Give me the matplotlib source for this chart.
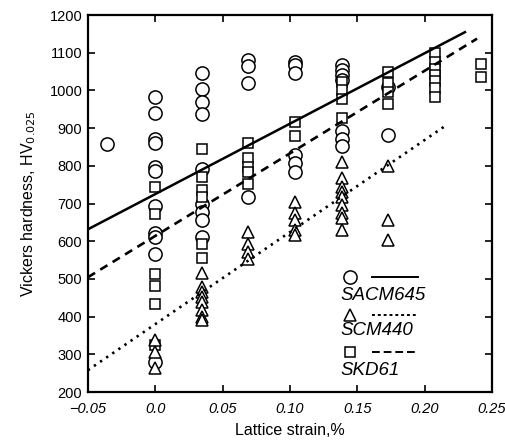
import numpy as np
import matplotlib
matplotlib.use("Agg")
import matplotlib.pyplot as plt

plt.rcParams['font.family'] = ['Liberation Sans', 'DejaVu Sans']

# SACM645 (circles)
sacm_x = [-0.036] + [0.0] * 11 + [0.035] * 9 + [0.069] * 4 + [0.104] * 6 + [0.139] * 7 + [0.173] * 2
sacm_y = [858,
          983, 941, 870, 860, 798, 787, 693, 621, 610, 566, 280,
          1047, 1003, 970, 937, 791, 699, 678, 656, 612,
          1081, 1065, 1019, 718,
          1076, 1067, 1047, 829, 807, 784,
          1067, 1054, 1041, 1029, 893, 870, 853,
          1008, 882]

# SCM440 (triangles)
scm_x = [0.0] * 3 + [0.035] * 8 + [0.069] * 4 + [0.104] * 5 + [0.139] * 9 + [0.173] * 3
scm_y = [338, 307, 263,
         515, 479, 466, 453, 440, 418, 400, 391,
         625, 594, 572, 554,
         705, 674, 656, 630, 616,
         811, 767, 745, 731, 718, 696, 674, 661, 630,
         800, 656, 603]

# SKD61 (squares)
skd_x = [0.0] * 6 + [0.035] * 6 + [0.069] * 5 + [0.104] * 2 + [0.139] * 4 + [0.173] * 4 + [0.208] * 7 + [0.242] * 2
skd_y = [743, 671, 513, 481, 433, 325,
         844, 771, 736, 718, 594, 555,
         861, 820, 798, 784, 753,
         917, 880,
         1022, 1001, 977, 927,
         1049, 1020, 995, 965,
         1100, 1076, 1058, 1041, 1026, 1006, 982,
         1070, 1036]

# fitted lines: x range, intercept, slope
sacm_fit = (-0.05, 0.23, 725, 1868)
scm_fit = (-0.05, 0.215, 380, 2442)
skd_fit = (-0.05, 0.239, 614, 2190)

fig = plt.figure(figsize=(5.05, 4.43), dpi=100)
ax = fig.add_axes([0.174, 0.115, 0.800, 0.851])

mk = dict(linestyle='none', markerfacecolor='white', markeredgecolor='black', markeredgewidth=1.1)
ax.plot(sacm_x, sacm_y, marker='o', markersize=9.5, **mk)
ax.plot(skd_x, skd_y, marker='s', markersize=7.5, **mk)
ax.plot(scm_x, scm_y, marker='^', markersize=8.5, **mk)

for (x0, x1, b, m), ls, lw in [(sacm_fit, '-', 1.8),
                               (skd_fit, (0, (3.2, 2.3)), 1.9),
                               (scm_fit, (0, (0.9, 1.9)), 1.9)]:
    xs = np.array([x0, x1])
    ax.plot(xs, b + m * xs, color='black', linestyle=ls, linewidth=lw)

ax.set_xlim(-0.05, 0.25)
ax.set_ylim(200, 1200)
ax.set_xticks([-0.05, 0.0, 0.05, 0.10, 0.15, 0.20, 0.25])
ax.set_xticklabels(['\u22120.05', '0.0', '0.05', '0.10', '0.15', '0.20', '0.25'],
                   fontstyle='italic')
ax.set_yticks(np.arange(200, 1201, 100))
ax.tick_params(direction='in', top=True, right=True, length=5, width=1.2,
               labelsize=10.5)
ax.tick_params(axis='x', pad=7)
ax.tick_params(axis='y', pad=4)
for s in ax.spines.values():
    s.set_linewidth(1.6)

ax.set_xlabel('Lattice strain,%', fontsize=11.5, labelpad=5)
ax.set_ylabel('Vickers hardness, HV$_{0.025}$', fontsize=11.5, labelpad=8)

# legend drawn by hand
tr = ax.transAxes
legend_rows = [('o', 9.5, '-', 'SACM645', 0.305, 0.255),
               ('^', 8.5, (0, (1.5, 1.5)), 'SCM440', 0.204, 0.164),
               ('s', 7.5, (0, (4, 2)), 'SKD61', 0.106, 0.058)]
for m, ms, ls, name, ym, yt in legend_rows:
    ax.plot([0.65], [ym], marker=m, markersize=ms, transform=tr, clip_on=False, **mk)
    ax.plot([0.703, 0.817], [ym, ym], color='black', linestyle=ls, linewidth=1.4,
            transform=tr)
    ax.text(0.625, yt, name, transform=tr, fontsize=13.5, fontstyle='italic',
            va='center', ha='left')

fig.savefig('out.png', dpi=100)
